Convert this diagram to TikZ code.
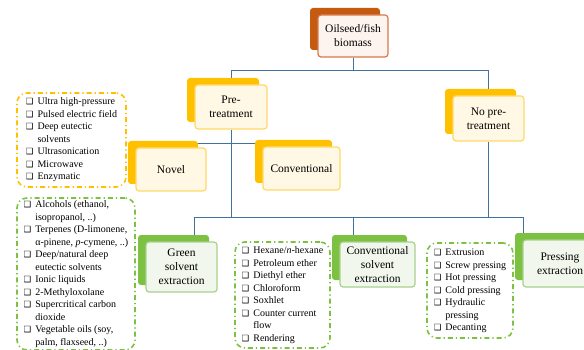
\documentclass[tikz,border=0pt]{standalone}
\usepackage{fontspec}
\setmainfont{Liberation Serif}
\newfontfamily\symfont{DejaVu Sans}
\usetikzlibrary{shadows,backgrounds}

\definecolor{rustdk}{HTML}{C55A11}
\definecolor{rustln}{HTML}{D8784A}
\definecolor{rustbg}{HTML}{FDF4EF}
\definecolor{golddk}{HTML}{FFC000}
\definecolor{goldln}{HTML}{FFD966}
\definecolor{goldbg}{HTML}{FFF8E5}
\definecolor{leafdk}{HTML}{7CC142}
\definecolor{leafln}{HTML}{A9D18E}
\definecolor{leafbg}{HTML}{F1F7EC}
\definecolor{linkcl}{HTML}{41719C}

\newcommand{\chk}{{\symfont\bfseries\fontsize{8.5}{9}\selectfont ❑}}

\tikzset{
  stackbox/.style={draw=#1ln, fill=#1bg, line width=1.2pt, rounded corners=3pt,
    align=center, font=\fontsize{11.5}{14}\selectfont, inner sep=1pt,
    general shadow={fill=#1dk, shadow xshift=-8pt, shadow yshift=7pt}},
  listbox/.style={draw=#1, line width=1.6pt, rounded corners=10pt,
    dash pattern=on 5pt off 3pt on 1.2pt off 3pt,
    font=\fontsize{10}{12.5}\selectfont, inner sep=0pt},
  link/.style={draw=linkcl, line width=0.9pt}
}

\begin{document}
\begin{tikzpicture}[x=1pt,y=-1pt]
  \useasboundingbox (0,0) rectangle (584,350);
  \clip (0,0) rectangle (584,350);

  % boxes of the tree
  \node[stackbox=rust, minimum width=70pt, minimum height=42pt] (biomass) at (353,36) {Oilseed/fish\\biomass};
  \node[stackbox=gold, minimum width=72pt, minimum height=44pt] (pre) at (231,107) {Pre-\\treatment};
  \node[stackbox=gold, minimum width=71pt, minimum height=45pt] (nopre) at (488.5,118.5) {No pre-\\treatment};
  \node[stackbox=gold, minimum width=70pt, minimum height=43pt] (novel) at (171,169.5) {Novel};
  \node[stackbox=gold, minimum width=77pt, minimum height=43pt] (conv) at (301.5,168.5) {Conventional};
  \node[stackbox=leaf, minimum width=71pt, minimum height=50pt] (green) at (181.5,267) {Green\\solvent\\extraction};
  \node[stackbox=leaf, minimum width=75pt, minimum height=45pt] (convsolv) at (377.5,264.5) {Conventional\\solvent\\extraction};
  \node[stackbox=leaf, minimum width=74pt, minimum height=47pt] (press) at (560,263.5) {Pressing\\extraction};

  % dash-dot lists
  \node[listbox=golddk, minimum width=109pt, minimum height=94pt] (novlist) at (71.5,140) {%
    \begin{tabular}{@{}l@{\hspace{4pt}}l@{}}
    \chk & Ultra high-pressure\\
    \chk & Pulsed electric field\\
    \chk & Deep eutectic\\
         & solvents\\
    \chk & Ultrasonication\\
    \chk & Microwave\\
    \chk & Enzymatic
    \end{tabular}};
  \node[listbox=leafdk, minimum width=118pt, minimum height=152pt] (greenlist) at (76,274) {%
    \begin{tabular}{@{}l@{\hspace{4pt}}l@{}}
    \chk & Alcohols (ethanol,\\
         & isopropanol, ..)\\
    \chk & Terpenes (D-limonene,\\
         & α-pinene, \textit{p}-cymene, ..)\\
    \chk & Deep/natural deep\\
         & eutectic solvents\\
    \chk & Ionic liquids\\
    \chk & 2-Methyloxolane\\
    \chk & Supercritical carbon\\
         & dioxide\\
    \chk & Vegetable oils (soy,\\
         & palm, flaxseed, ..)
    \end{tabular}};
  \node[listbox=leafdk, minimum width=95pt, minimum height=106pt] (convlist) at (282.5,295) {%
    \begin{tabular}{@{}l@{\hspace{4pt}}l@{}}
    \chk & Hexane/\textit{n}-hexane\\
    \chk & Petroleum ether\\
    \chk & Diethyl ether\\
    \chk & Chloroform\\
    \chk & Soxhlet\\
    \chk & Counter current\\
         & flow\\
    \chk & Rendering
    \end{tabular}};
  \node[listbox=leafdk, minimum width=86pt, minimum height=95pt] (presslist) at (470,290.5) {%
    \begin{tabular}{@{}l@{\hspace{4pt}}l@{}}
    \chk & Extrusion\\
    \chk & Screw pressing\\
    \chk & Hot pressing\\
    \chk & Cold pressing\\
    \chk & Hydraulic\\
         & pressing\\
    \chk & Decanting
    \end{tabular}};

  % connectors
  \begin{scope}[on background layer]
    \draw[link] (biomass.south) -- ++(0,13) -| (pre.north);
    \draw[link] (biomass.south) -- ++(0,13) -| (nopre.north);
    \draw[link] (pre.south) -- ++(0,14) -| (novel.north);
    \draw[link] (pre.south) -- ++(0,14) -| (conv.north);
    \draw[link] (pre.south) -- ++(0,88) -| ([xshift=12.5pt]green.north);
    \draw[link] (pre.south) -- ++(0,88) -| ([xshift=-24pt]convsolv.north);
    \draw[link] (nopre.south) -- ++(0,76) -| ([xshift=-24pt]convsolv.north);
    \draw[link] (nopre.south) -- ++(0,76) -| ([xshift=-37pt]press.north);
  \end{scope}
\end{tikzpicture}
\end{document}
